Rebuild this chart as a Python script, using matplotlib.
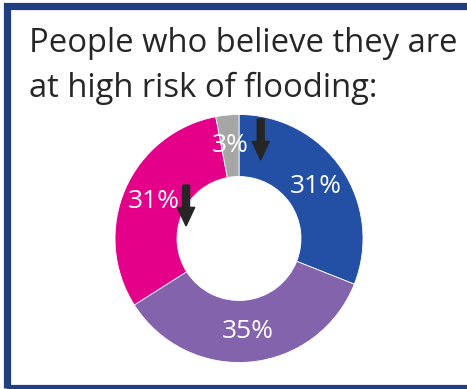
import matplotlib
matplotlib.use("Agg")
import numpy as np
import matplotlib.pyplot as plt
from matplotlib.patches import Rectangle, FancyArrow

# Share of people who believe they are at high risk of flooding
categories = ["Blue", "Purple", "Magenta", "Grey"]
values = [31, 35, 31, 3]
value_labels = ["31%", "35%", "31%", "3%"]
colors = ["#2350a5", "#8463ad", "#e5008a", "#a6a6a6"]

title_lines = ["People who believe they are", "at high risk of flooding:"]

W, H, DPI = 467, 389, 100
fig = plt.figure(figsize=(W / DPI, H / DPI), dpi=DPI)
fig.patch.set_facecolor("white")

# Dark blue frame, running off the right edge
frame = Rectangle((7 / W, 1 - 388 / H), 470 / W, (388 - 6) / H,
                  transform=fig.transFigure, fill=False,
                  edgecolor="#1f3f80", linewidth=5.2, clip_on=False)
fig.add_artist(frame)

for line, base in zip(title_lines, [52, 97]):
    fig.text(29 / W, 1 - base / H, line, ha="left", va="baseline",
             fontsize=23.6, family="Open Sans", color="#262626")

# Donut: centre (239, 238.5) px, outer radius 124 px
cx, cy, r = 239, 238.5, 124
ax = fig.add_axes([(cx - r) / W, 1 - (cy + r) / H, 2 * r / W, 2 * r / H])
wedges, texts = ax.pie(values, colors=colors, startangle=90, counterclock=False,
                       radius=1.0,
                       wedgeprops=dict(width=0.5, edgecolor="white", linewidth=0.6))
for w, lab in zip(wedges, value_labels):
    ang = np.deg2rad((w.theta1 + w.theta2) / 2)
    ax.text(0.75 * np.cos(ang), 0.75 * np.sin(ang), lab, ha="center", va="center",
            color="white", fontsize=19, family="Open Sans")
ax.set_xlim(-1, 1)
ax.set_ylim(-1, 1)
ax.set_aspect("equal")
ax.axis("off")

# Downward arrows marking a decrease
for x0, y0, y1 in [(0.175, 0.964, 0.633), (-0.427, 0.431, 0.101)]:
    ax.add_patch(FancyArrow(x0, y0, 0, y1 - y0, width=0.056, head_width=0.14,
                            head_length=0.15, length_includes_head=True,
                            color="#262626", zorder=5))

fig.savefig("out.png", dpi=DPI, facecolor="white")
